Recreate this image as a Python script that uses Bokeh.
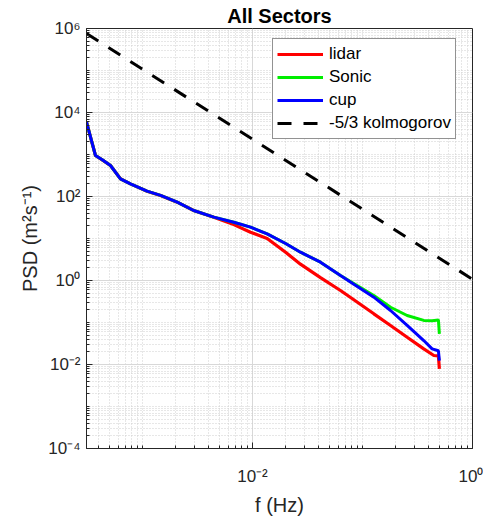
from bokeh.plotting import figure
from bokeh.models import (Range1d, FixedTicker, CustomJSTickFormatter, Legend, LegendItem)
from bokeh.embed import file_html
from bokeh.resources import INLINE

# ---- data ----
f_lidar = [3.10e-4, 3.74e-4, 4.31e-4, 5.12e-4, 6.31e-4, 7.78e-4, 1.10e-3, 1.46e-3,
           2.07e-3, 2.92e-3, 4.45e-3, 6.76e-3, 9.60e-3, 1.36e-2, 2.00e-2, 2.73e-2,
           4.15e-2, 6.31e-2, 8.34e-2, 0.1268, 0.1799, 0.2547, 0.3606, 0.445, 0.49, 0.50]
psd_lidar = [5890, 946, 746, 547, 264, 200, 134, 106,
             73.3, 46.5, 32.2, 21.4, 14.1, 10.0, 4.7, 2.45,
             1.17, 0.578, 0.347, 0.161, 0.0849, 0.0447, 0.0236, 0.0164, 0.0160, 0.0079]

f_sonic = [3.10e-4, 3.74e-4, 4.31e-4, 5.12e-4, 6.31e-4, 7.78e-4, 1.10e-3, 1.46e-3,
           2.07e-3, 2.92e-3, 4.45e-3, 6.76e-3, 9.60e-3, 1.36e-2, 2.00e-2, 2.73e-2,
           4.15e-2, 6.31e-2, 8.34e-2, 0.1268, 0.1799, 0.2547, 0.3606, 0.4295, 0.49, 0.50]
psd_sonic = [5890, 946, 746, 547, 264, 200, 134, 106,
             73.3, 46.5, 32.2, 24.4, 18.6, 12.9, 7.6, 4.72,
             2.73, 1.32, 0.851, 0.440, 0.231, 0.147, 0.112, 0.110, 0.115, 0.0537]

f_cup = [3.10e-4, 3.74e-4, 4.31e-4, 5.12e-4, 6.31e-4, 7.78e-4, 1.10e-3, 1.46e-3,
         2.07e-3, 2.92e-3, 4.45e-3, 6.76e-3, 9.60e-3, 1.36e-2, 2.00e-2, 2.73e-2,
         4.15e-2, 6.31e-2, 8.34e-2, 0.1268, 0.1799, 0.2547, 0.3606, 0.4295, 0.49, 0.50]
psd_cup = [5890, 946, 746, 547, 264, 200, 134, 106,
           73.3, 46.5, 32.2, 24.4, 18.6, 12.9, 7.6, 4.72,
           2.73, 1.32, 0.818, 0.401, 0.193, 0.0849, 0.0372, 0.0236, 0.0212, 0.0124]

f_kolmo = [3.10e-4, 1.0]
psd_kolmo = [7.6e5, 1.07]

x_major = [1e-2, 1.0]
y_major = [1e-4, 1e-2, 1.0, 1e2, 1e4, 1e6]

FONT = "Liberation Sans"
AX = "#262626"

x_minor = [k * 10.0 ** n for n in (-4, -3, -2, -1) for k in range(1, 10)
           if 3.1e-4 <= k * 10.0 ** n <= 1.0 and k * 10.0 ** n not in x_major]
y_minor = [k * 10.0 ** n for n in range(-4, 6) for k in range(1, 10)
           if k * 10.0 ** n not in y_major]

p = figure(x_axis_type="log", y_axis_type="log",
           x_range=Range1d(3.1e-4, 1.0), y_range=Range1d(1e-4, 1e6),
           frame_width=386, frame_height=420,
           min_border_left=86, min_border_right=11, min_border_top=28, min_border_bottom=68,
           output_backend="svg", toolbar_location=None,
           background_fill_color="white", border_fill_color="white")

p.title.text = "All Sectors"
p.title.align = "center"
p.title.text_font = FONT
p.title.text_font_size = "20px"
p.title.text_font_style = "bold"
p.title.text_color = "black"
p.title.standoff = 4

fmt_code = """
const e = Math.round(Math.log10(tick));
const m = {'-':'\u207b','0':'\u2070','1':'\u00b9','2':'\u00b2','3':'\u00b3','4':'\u2074',
           '5':'\u2075','6':'\u2076','7':'\u2077','8':'\u2078','9':'\u2079'};
return '10' + String(e).split('').map(c => m[c]).join('');
"""

for ax, major, minor in ((p.xaxis[0], x_major, x_minor), (p.yaxis[0], y_major, y_minor)):
    ax.ticker = FixedTicker(ticks=major, minor_ticks=minor)
    ax.formatter = CustomJSTickFormatter(code=fmt_code)
    ax.major_tick_in = 6
    ax.major_tick_out = 0
    ax.minor_tick_in = 3
    ax.minor_tick_out = 0
    ax.axis_line_color = AX
    ax.major_tick_line_color = AX
    ax.minor_tick_line_color = AX
    ax.major_label_text_font = FONT
    ax.major_label_text_font_size = "17px"
    ax.major_label_text_color = AX
    ax.axis_label_text_font = FONT
    ax.axis_label_text_font_size = "20px"
    ax.axis_label_text_font_style = "normal"
    ax.axis_label_text_color = AX

p.xaxis.axis_label = "f (Hz)"
p.yaxis.axis_label = "PSD (m\u00b2s\u207b\u00b9)"
p.xaxis.major_label_standoff = 18
p.xaxis.axis_label_standoff = 5
p.yaxis.major_label_standoff = 6
p.yaxis.axis_label_standoff = 4

for g in (p.xgrid[0], p.ygrid[0]):
    g.grid_line_color = "#d8d8d8"
    g.grid_line_width = 1
    g.minor_grid_line_color = "#cfcfcf"
    g.minor_grid_line_dash = "1 2"
    g.minor_grid_line_width = 1

p.outline_line_color = AX
p.outline_line_width = 1

r_lidar = p.line(f_lidar, psd_lidar, line_color="#ff0000", line_width=3.2)
r_sonic = p.line(f_sonic, psd_sonic, line_color="#00ee00", line_width=3)
r_cup = p.line(f_cup, psd_cup, line_color="#0000ff", line_width=3)
r_k = p.line(f_kolmo, psd_kolmo, line_color="black", line_width=3, line_dash="14 12")

legend = Legend(items=[LegendItem(label="lidar", renderers=[r_lidar]),
                       LegendItem(label="Sonic", renderers=[r_sonic]),
                       LegendItem(label="cup", renderers=[r_cup]),
                       LegendItem(label="-5/3 kolmogorov", renderers=[r_k])],
                location=(186, 309))
legend.label_text_font = FONT
legend.label_text_font_size = "17px"
legend.label_text_color = "black"
legend.glyph_width = 46
legend.glyph_height = 22
legend.label_height = 22
legend.label_standoff = 6
legend.spacing = 1
legend.padding = 4
legend.margin = 0
legend.border_line_color = AX
legend.border_line_width = 1
legend.background_fill_color = "white"
legend.background_fill_alpha = 1.0
p.add_layout(legend, "center")

open("out.html", "w").write(file_html(p, INLINE))
